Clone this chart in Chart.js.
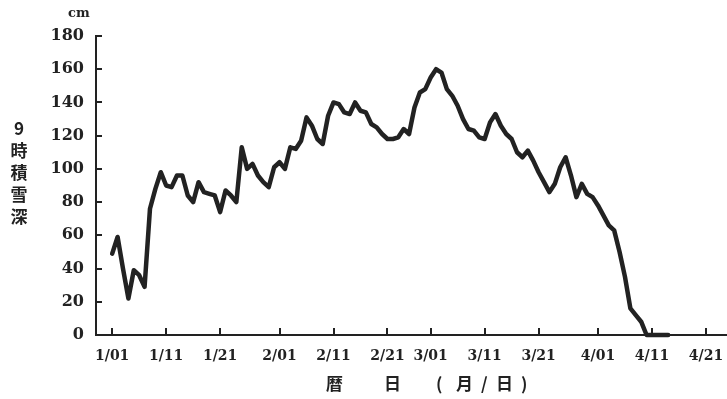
<!DOCTYPE html>
<html>
<head>
<meta charset="utf-8">
<script src="https://cdn.jsdelivr.net/npm/chart.js@4.4.1/dist/chart.umd.min.js"></script>
<style>
  html, body { margin: 0; padding: 0; background: #fff; }
  #wrap { position: relative; width: 727px; height: 399px; }
  .lbl { position: absolute; color: #222; font-family: "Noto Sans CJK JP", sans-serif; font-weight: bold; font-size: 17px; line-height: 20px; }
  #unit { left: 68px; top: 3px; font-family: "DejaVu Serif", serif; font-size: 13px; }
  #ytitle { left: 9px; top: 117px; line-height: 22px; text-align: center; width: 20px; }
</style>
</head>
<body>
<div id="wrap">
  <canvas id="chart" width="727" height="399"></canvas>
  <div class="lbl" id="unit">cm</div>
  <div class="lbl" id="ytitle">9<br>時<br>積<br>雪<br>深</div>
  <div class="lbl" style="left:326px;top:373px">暦</div>
  <div class="lbl" style="left:384px;top:373px">日</div>
  <div class="lbl" style="left:436px;top:373px">(</div>
  <div class="lbl" style="left:456px;top:373px">月</div>
  <div class="lbl" style="left:481px;top:373px">/</div>
  <div class="lbl" style="left:496px;top:373px">日</div>
  <div class="lbl" style="left:521px;top:373px">)</div>
</div>
<script>
// =====================
// DATA
// =====================
// daily snow depth (cm) at 9:00, day 0 = 1/01
const snowDepth = [
  49, 59, 40, 22, 39, 36, 29, 76, 88, 98,
  90, 89, 96, 96, 84, 80, 92, 86, 85, 84,
  74, 87, 84, 80, 113, 100, 103, 96, 92, 89,
  101, 104, 100, 113, 112, 117, 131, 126, 118, 115,
  132, 140, 139, 134, 133, 140, 135, 134, 127, 125,
  121, 118, 118, 119, 124, 121, 137, 146, 148, 155,
  160, 158, 148, 144, 138, 130, 124, 123, 119, 118,
  128, 133, 126, 121, 118, 110, 107, 111, 105, 98,
  92, 86, 91, 101, 107, 96, 83, 91, 85, 83,
  78, 72, 66, 63, 50, 35, 16, 12, 8, 0,
  0, 0, 0, 0
];

const tickDays = [0, 10, 20, 31, 41, 51, 59, 69, 79, 90, 100, 110];
const tickLabels = ['1/01', '1/11', '1/21', '2/01', '2/11', '2/21', '3/01', '3/11', '3/21', '4/01', '4/11', '4/21'];
const yTicks = [0, 20, 40, 60, 80, 100, 120, 140, 160, 180];

const INK = '#222';

// ticks drawn inward from the axis lines
const innerTicks = {
    id: 'innerTicks',
    afterDatasetsDraw(chart) {
        const { ctx, chartArea, scales } = chart;
        ctx.save();
        ctx.strokeStyle = INK;
        ctx.lineWidth = 2;
        scales.y.ticks.forEach(t => {
            const py = Math.round(scales.y.getPixelForValue(t.value));
            ctx.beginPath();
            ctx.moveTo(chartArea.left, py);
            ctx.lineTo(chartArea.left + 6, py);
            ctx.stroke();
        });
        scales.x.ticks.forEach(t => {
            const px = Math.round(scales.x.getPixelForValue(t.value));
            ctx.beginPath();
            ctx.moveTo(px, chartArea.bottom);
            ctx.lineTo(px, chartArea.bottom - 7);
            ctx.stroke();
        });
        ctx.restore();
    }
};

const serif = { family: '"DejaVu Serif", serif', size: 16, weight: 'bold' };

new Chart(document.getElementById('chart'), {
    type: 'line',
    data: {
        datasets: [{
            data: snowDepth.map((v, i) => ({ x: i, y: v })),
            borderColor: INK,
            borderWidth: 4.5,
            pointRadius: 0,
            tension: 0,
            borderJoinStyle: 'round',
            borderCapStyle: 'round',
            clip: false
        }]
    },
    options: {
        responsive: false,
        animation: false,
        layout: { padding: { top: 36, right: 0, left: 0, bottom: 0 } },
        plugins: { legend: { display: false }, tooltip: { enabled: false } },
        scales: {
            x: {
                type: 'linear',
                min: -3,
                max: 113.9,
                afterBuildTicks: s => { s.ticks = tickDays.map(v => ({ value: v })); },
                afterFit: s => { s.height = 64; s.paddingLeft = 0; s.paddingRight = 0; },
                grid: { drawOnChartArea: false, drawTicks: false },
                border: { color: INK, width: 2 },
                ticks: {
                    color: INK,
                    font: { ...serif, size: 14 },
                    padding: 13,
                    maxRotation: 0,
                    autoSkip: false,
                    callback: v => tickLabels[tickDays.indexOf(v)]
                }
            },
            y: {
                min: 0,
                max: 180,
                afterBuildTicks: s => { s.ticks = yTicks.map(v => ({ value: v })); },
                afterFit: s => { s.width = 96; s.paddingTop = 0; s.paddingBottom = 0; },
                grid: { drawOnChartArea: false, drawTicks: false },
                border: { color: INK, width: 2 },
                ticks: { color: INK, font: serif, padding: 12 }
            }
        }
    },
    plugins: [innerTicks]
});
</script>
</body>
</html>
